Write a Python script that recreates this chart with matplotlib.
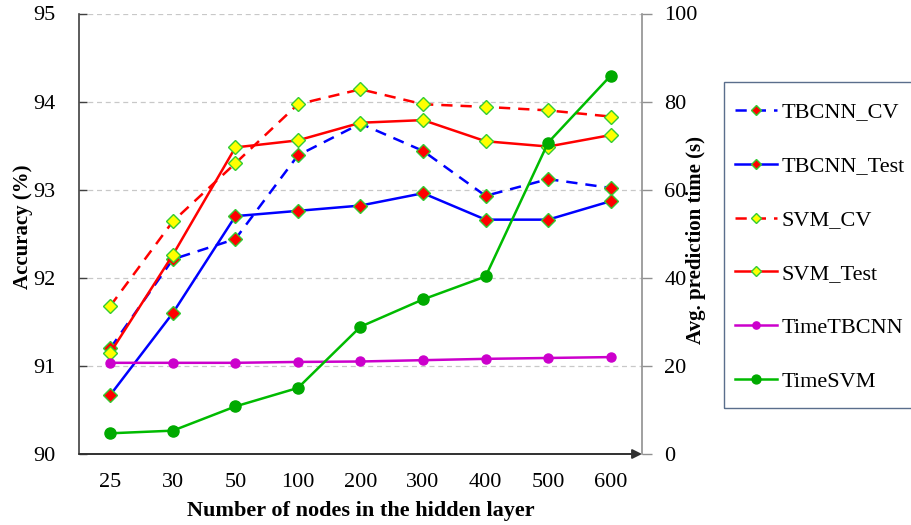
import matplotlib
matplotlib.use("Agg")
import matplotlib.pyplot as plt
from matplotlib.patches import Rectangle

plt.rcParams['font.family'] = ['Liberation Serif', 'DejaVu Serif']

categories = ['25', '30', '50', '100', '200', '300', '400', '500', '600']
tbcnn_cv = [91.20, 92.21, 92.44, 93.39, 93.75, 93.44, 92.93, 93.12, 93.02]
tbcnn_test = [90.67, 91.60, 92.70, 92.76, 92.82, 92.96, 92.66, 92.66, 92.87]
svm_cv = [91.68, 92.64, 93.30, 93.97, 94.14, 93.97, 93.94, 93.90, 93.83]
svm_test = [91.15, 92.26, 93.48, 93.56, 93.76, 93.79, 93.55, 93.49, 93.62]
time_tbcnn = [20.7, 20.7, 20.7, 20.9, 21.0, 21.3, 21.6, 21.8, 22.0]
time_svm = [4.7, 5.3, 10.8, 15.0, 28.9, 35.1, 40.3, 70.7, 85.9]
left_ticks = [90, 91, 92, 93, 94, 95]
right_ticks = [0, 20, 40, 60, 80, 100]

W, H = 912, 525
fig = plt.figure(figsize=(W/100, H/100), dpi=100)
ax = fig.add_axes([79/W, 1-454/H, (642-79)/W, (454-13.5)/H])
ax2 = ax.twinx()

x = list(range(len(categories)))
green_edge = '#33cc33'
lw = 1.8
dash = (0, (4.5, 3.2))
dms = 7

l1, = ax.plot(x, tbcnn_cv, color='#0000ff', lw=lw, linestyle=dash, marker='D', ms=dms,
              mfc='#ff0000', mec=green_edge, mew=1.0, label='TBCNN_CV', zorder=4)
l2, = ax.plot(x, tbcnn_test, color='#0000ff', lw=lw, marker='D', ms=dms,
              mfc='#ff0000', mec=green_edge, mew=1.0, label='TBCNN_Test', zorder=4)
l3, = ax.plot(x, svm_cv, color='#ff0000', lw=lw, linestyle=dash, marker='D', ms=dms,
              mfc='#ffff00', mec=green_edge, mew=1.0, label='SVM_CV', zorder=4)
l4, = ax.plot(x, svm_test, color='#ff0000', lw=lw, marker='D', ms=dms,
              mfc='#ffff00', mec=green_edge, mew=1.0, label='SVM_Test', zorder=4)
l5, = ax2.plot(x, time_tbcnn, color='#cc00cc', lw=lw, marker='o', ms=6.5,
               mfc='#cc00cc', mec='#cc00cc', label='TimeTBCNN', zorder=4)
l6, = ax2.plot(x, time_svm, color='#00bb00', lw=lw, marker='o', ms=8,
               mfc='#00aa00', mec='#00aa00', label='TimeSVM', zorder=4)

ax.set_xlim(-0.5, 8.5)
ax.set_ylim(90, 95)
ax2.set_ylim(0, 100)
ax.set_xticks(x)
ax.set_xticklabels(categories)
ax.set_yticks(left_ticks)
ax2.set_yticks(right_ticks)

for yv in left_ticks[1:]:
    ax.axhline(yv, color='#c8c8c8', lw=0.9, linestyle=(0, (4, 3)), zorder=0)

ax.tick_params(axis='x', length=0, pad=14, labelsize=16)
ax.tick_params(axis='y', direction='in', length=6, width=1, color='#404040', pad=17, labelsize=16)
ax2.tick_params(axis='y', direction='out', length=7, width=1, color='#909090', pad=9, labelsize=16)

ax.spines['top'].set_visible(False)
ax2.spines['top'].set_visible(False)
ax.spines['right'].set_visible(False)
ax2.spines['left'].set_visible(False)
ax2.spines['bottom'].set_visible(False)
ax.spines['left'].set_color('#404040')
ax.spines['left'].set_linewidth(1.2)
ax.spines['bottom'].set_visible(False)
ax2.spines['right'].set_color('#909090')
ax2.spines['right'].set_linewidth(1.2)

# bottom axis line with arrow
ax.annotate('', xy=(1.0, 0), xytext=(0, 0), xycoords='axes fraction',
            arrowprops=dict(arrowstyle='-|>', color='#303030', lw=1.4,
                            mutation_scale=14, shrinkA=0, shrinkB=0), zorder=5)

ax.set_xlabel('Number of nodes in the hidden layer', fontsize=16, fontweight='bold', labelpad=6)
ax.set_ylabel('Accuracy (%)', fontsize=15, fontweight='bold')
ax.yaxis.set_label_coords(-46/563, 0.515)
ax2.set_ylabel('Avg. prediction time (s)', fontsize=15, fontweight='bold')
ax2.yaxis.set_label_coords(1 + 44/563, 0.485)

# legend frame drawn separately (extends past the right edge like the reference)
fig.patches.append(Rectangle((724/W, 1-408/H), 220/W, (408-82)/H, transform=fig.transFigure,
                             fill=False, edgecolor='#5a6e8c', lw=1.0))
leg = fig.legend(handles=[l1, l2, l3, l4, l5, l6],
                 loc='upper left', bbox_to_anchor=(735/W, 1-102/H),
                 fontsize=16, frameon=False,
                 borderpad=0, labelspacing=1.5, handlelength=1.9,
                 handletextpad=0.2, borderaxespad=0, markerscale=0.8, numpoints=1)

fig.savefig('out.png', dpi=100)
